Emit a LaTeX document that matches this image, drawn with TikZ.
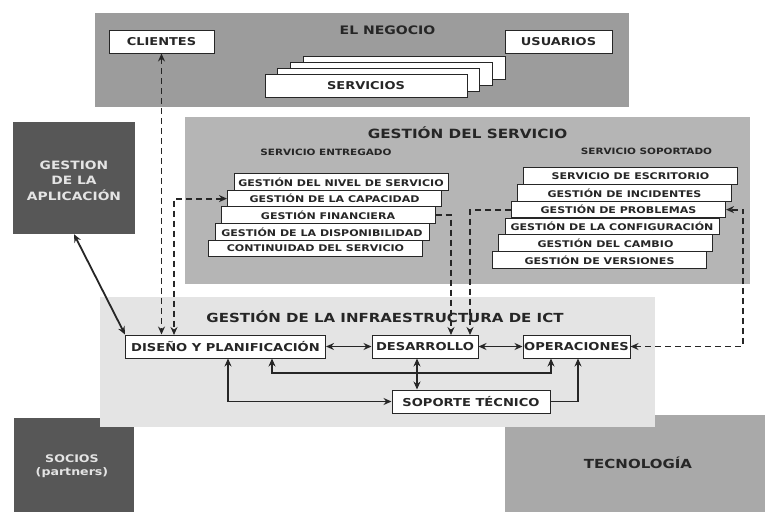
\documentclass[tikz,border=0pt]{standalone}
\usepackage{fontspec}
\setmainfont{DejaVu Sans}
\newfontfamily\lab[FakeStretch=1.2]{DejaVu Sans}
\usetikzlibrary{arrows.meta,calc}
\definecolor{negocio}{HTML}{9C9C9C}
\definecolor{servpanel}{HTML}{B5B5B5}
\definecolor{infrapanel}{HTML}{E4E4E4}
\definecolor{darkbox}{HTML}{575757}
\definecolor{tecno}{HTML}{A9A9A9}
\definecolor{ink}{HTML}{262626}
\definecolor{paletext}{HTML}{E4E4E4}
\tikzset{
  panel/.style={draw=none, inner sep=0pt},
  wbox/.style={draw=ink, line width=1pt, fill=white, inner sep=0pt, text=ink},
  stk/.style={wbox, minimum width=214pt, minimum height=16.6pt,
    font=\lab\bfseries\fontsize{9.2}{10}\selectfont},
  topbox/.style={wbox, minimum height=23pt,
    font=\lab\bfseries\fontsize{10.8}{12}\selectfont},
  ibox/.style={wbox, minimum height=23pt,
    font=\lab\bfseries\fontsize{10.9}{12}\selectfont},
  headtxt/.style={inner sep=0pt, text=ink, font=\lab\bfseries\fontsize{#1}{#1}\selectfont},
  subtxt/.style={inner sep=0pt, text=ink, font=\lab\bfseries\fontsize{8.7}{10}\selectfont},
  tipx/.tip={Stealth[length=8pt,width=7pt]},
  dashc/.style={draw=ink, line width=1.8pt, dash pattern=on 6pt off 4pt},
  solc/.style={draw=ink, line width=1.8pt},
}
\begin{document}
\begin{tikzpicture}[x=1pt,y=-1pt,>=tipx]
\useasboundingbox (0,0) rectangle (765,512);
\fill[white] (0,0) rectangle (765,512);

% ---------- panels ----------
\node[panel, fill=negocio, minimum width=534pt, minimum height=94pt] (neg) at (362,60) {};
\node[panel, fill=servpanel, minimum width=565pt, minimum height=167pt] (serv) at (467.5,200.5) {};
\node[panel, fill=darkbox, minimum width=120pt, minimum height=94pt] (soc) at (74,465) {};
\node[panel, fill=tecno, minimum width=260pt, minimum height=97pt] (tec) at (635,463.5) {};
\node[panel, fill=infrapanel, minimum width=555pt, minimum height=130pt] (infra) at (377.5,362) {};
\node[panel, fill=darkbox, minimum width=122pt, minimum height=112pt] (app) at (74,178) {};

% ---------- panel texts ----------
\node[headtxt=11.7] (tneg) at (387.5,30) {EL NEGOCIO};
\node[headtxt=12.7] (tserv) at (467.5,133) {GESTIÓN DEL SERVICIO};
\node[subtxt] (tent) at (326,152) {SERVICIO ENTREGADO};
\node[subtxt] (tsop) at (646.5,151) {SERVICIO SOPORTADO};
\node[headtxt=12.5] (tinf) at (385,317) {GESTIÓN DE LA INFRAESTRUCTURA DE ICT};
\node[inner sep=0pt, text=paletext, align=center,
      font=\lab\bfseries\fontsize{11.5}{15.5}\selectfont] (tapp) at (74,180.5)
      {GESTION\\DE LA\\APLICACIÓN};
\node[inner sep=0pt, text=paletext, align=center,
      font=\lab\bfseries\fontsize{10.5}{13}\selectfont] (tsoc) at (72,466)
      {SOCIOS\\(partners)};
\node[inner sep=0pt, text=ink, font=\lab\bfseries\fontsize{12.5}{14}\selectfont] (ttec) at (638,463) {TECNOLOGÍA};

% ---------- el negocio ----------
\node[topbox, minimum width=105pt] (cli) at (161.5,41.5) {CLIENTES};
\node[topbox, minimum width=107pt] (usu) at (558.5,41.5) {USUARIOS};
\node[topbox, minimum width=202pt] (sv3) at (404.4,68.4) {};
\node[topbox, minimum width=202pt] (sv2) at (391.6,74.1) {};
\node[topbox, minimum width=202pt] (sv1) at (378.8,79.8) {};
\node[topbox, minimum width=202pt] (sv0) at (366,85.5) {SERVICIOS};

% ---------- servicio entregado ----------
\node[stk] (g1) at (341,182) {GESTIÓN DEL NIVEL DE SERVICIO};
\node[stk] (g2) at (334.5,198.6) {GESTIÓN DE LA CAPACIDAD};
\node[stk] (g3) at (328,215.2) {GESTIÓN FINANCIERA};
\node[stk] (g4) at (322,231.8) {GESTIÓN DE LA DISPONIBILIDAD};
\node[stk] (g5) at (315.5,248.4) {CONTINUIDAD DEL SERVICIO};

% ---------- servicio soportado ----------
\node[stk] (p1) at (630.5,176) {SERVICIO DE ESCRITORIO};
\node[stk] (p2) at (624.5,192.8) {GESTIÓN DE INCIDENTES};
\node[stk] (p3) at (618.5,209.6) {GESTIÓN DE PROBLEMAS};
\node[stk] (p4) at (612,226.4) {GESTIÓN DE LA CONFIGURACIÓN};
\node[stk] (p5) at (605.5,243.2) {GESTIÓN DEL CAMBIO};
\node[stk] (p6) at (599.5,260) {GESTIÓN DE VERSIONES};

% ---------- infraestructura ----------
\node[ibox, minimum width=200pt] (dis) at (225.5,346.5) {DISEÑO Y PLANIFICACIÓN};
\node[ibox, minimum width=106pt] (des) at (425,346.5) {DESARROLLO};
\node[ibox, minimum width=107pt] (op) at (576.5,346.5) {OPERACIONES};
\node[ibox, minimum width=158pt] (sop) at (471,401.5) {SOPORTE TÉCNICO};

% ---------- dashed connectors ----------
\coordinate (d1) at (174,335);
\coordinate (d2) at (451,335);
\coordinate (d3) at (470,335);
\coordinate (d4) at (743,346.5);
\draw[dashc,<->] (cli.south) -- (cli.south |- dis.north);
\draw[dashc,<->] (g2.west) -| (d1);
\draw[dashc,->] (g3.east) -| (d2);
\draw[dashc,->] (p3.west) -| (d3);
\draw[dashc,<->] (op.east) -- (d4) |- (p3.east);

% ---------- solid connectors ----------
\coordinate (j1) at (272,373);
\coordinate (j2) at (551,373);
\coordinate (j3) at (228,401.5);
\coordinate (j4) at (578,401.5);
\coordinate (j5) at (417,373);
\draw[solc,<->] (app.south) -- (dis.north west);
\draw[solc,<->] (dis.east) -- (des.west);
\draw[solc,<->] (des.east) -- (op.west);
\draw[solc,<->] (dis.south -| j1) -- (j1) -- (j2) -- (op.south -| j2);
\draw[solc,<->] (des.south -| j5) -- (sop.north -| j5);
\draw[solc,<->] (dis.south -| j3) -- (j3) -- (sop.west);
\draw[solc,->] (sop.east) -- (j4) -- (op.south -| j4);
\end{tikzpicture}
\end{document}
